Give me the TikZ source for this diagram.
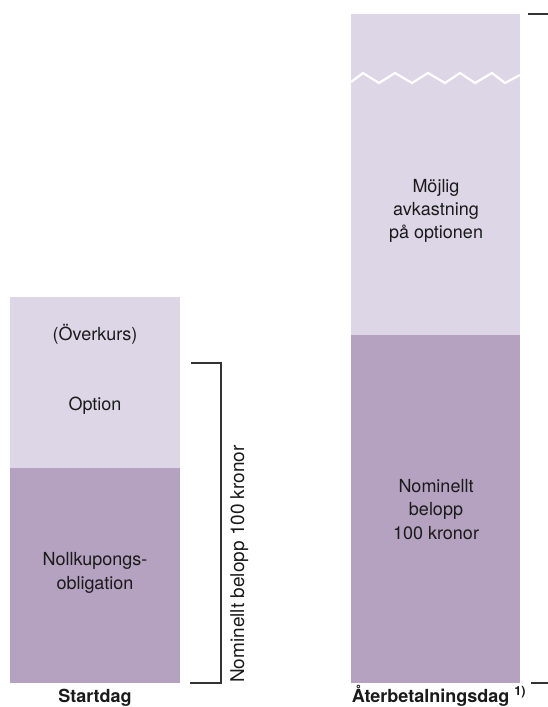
\documentclass[tikz,border=0pt]{standalone}
\usepackage{fontspec}
\setmainfont{TeX Gyre Heros}
\definecolor{lightbar}{HTML}{DCD6E6}
\definecolor{darkbar}{HTML}{B4A2C0}
\definecolor{ink}{HTML}{1A1A1A}
\definecolor{rule}{HTML}{333333}
\begin{document}
\begin{tikzpicture}[x=1pt,y=-1pt,
  lbl/.style={font=\fontsize{18}{21}\selectfont, text=ink, anchor=base, inner sep=0pt},
  vlbl/.style={font=\fontsize{19}{22}\selectfont, text=ink, anchor=base, inner sep=0pt, rotate=90},
  head/.style={font=\fontsize{18}{21}\selectfont\bfseries, text=ink, anchor=base, inner sep=0pt},
  brk/.style={draw=rule, line width=1.3pt},
  zig/.style={draw=white, line width=2.2pt, line join=miter}]
\useasboundingbox (0,0) rectangle (548,707);

% left bar (Startdag)
\fill[lightbar] (10,297) rectangle (180,468);
\fill[darkbar] (10,468) rectangle (180,683);

% right bar (Återbetalningsdag)
\fill[lightbar] (351,14) rectangle (520,335);
\fill[darkbar] (351,335) rectangle (520,683);

% break zigzag
\draw[zig] (351,82) -- (363,73) -- (379,83) -- (395,73) -- (412,83) -- (428,73)
  -- (445,83) -- (460,73) -- (475,83) -- (492,73) -- (505,83) -- (520,75);

% left bar texts
\node[lbl] (overkurs) at (95,340) {(Överkurs)};
\node[lbl] (option) at (95,410) {Option};
\node[lbl] (noll1) at (95,565) {Nollkupongs-};
\node[lbl] (noll2) at (95,589) {obligation};

% right bar texts
\node[lbl] (mojlig1) at (436,192) {Möjlig};
\node[lbl] (mojlig2) at (436,215) {avkastning};
\node[lbl] (mojlig3) at (436,238) {på optionen};
\node[lbl] (nom1) at (436,492) {Nominellt};
\node[lbl] (nom2) at (436,515) {belopp};
\node[lbl] (nom3) at (436,539) {100 kronor};

% bracket on the left bar
\coordinate (bt1) at (191,363);
\coordinate (bt2) at (221,363);
\coordinate (bb1) at (190,683);
\coordinate (bb2) at (221,683);
\draw[brk] (bt1) -- (bt2) -- (bb2) -- (bb1);
\node[vlbl] (nomv) at (244,564) {Nominellt belopp 100 kronor};

% ticks on the right
\coordinate (rt1) at (528,14);
\coordinate (rt2) at (548,14);
\coordinate (rb1) at (531,683);
\coordinate (rb2) at (548,683);
\draw[brk] (rt1) -- (rt2);
\draw[brk] (rb1) -- (rb2);

% headings
\node[head] (start) at (95,702) {Startdag};
\node[head] (ater) at (439,702) {Återbetalningsdag \textsuperscript{1)}};
\end{tikzpicture}
\end{document}
